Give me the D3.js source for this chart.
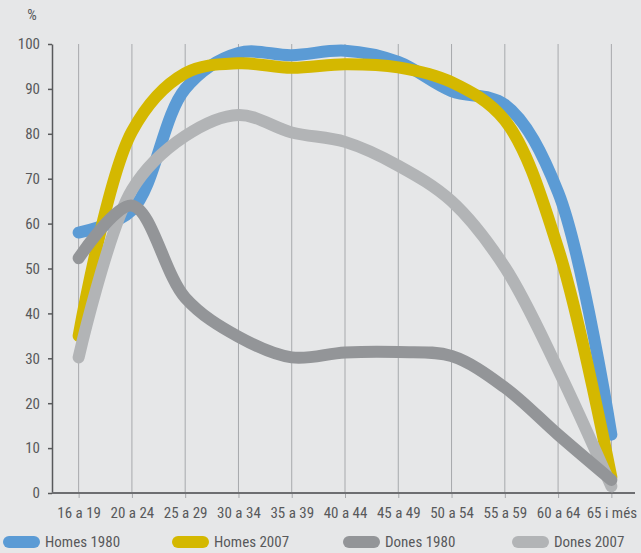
<!DOCTYPE html>
<html>
<head>
<meta charset="utf-8">
<script src="https://cdn.jsdelivr.net/npm/d3@7"></script>
<style>
  html, body { margin: 0; padding: 0; background: #e6e7e8; }
  svg { display: block; }
  text { font-family: "Liberation Sans Narrow", "Roboto Condensed", "Liberation Sans", sans-serif; fill: #58595b; }
</style>
</head>
<body>
<svg id="chart" width="641" height="553"></svg>
<script>
// Age groups on the horizontal axis
const categories = ["16 a 19", "20 a 24", "25 a 29", "30 a 34", "35 a 39", "40 a 44",
                    "45 a 49", "50 a 54", "55 a 59", "60 a 64", "65 i més"];

// Activity rate (%) by age group
const homes1980 = [58, 63, 90, 98, 97.5, 98.5, 96, 89.5, 86.5, 67, 13];
const homes2007 = [35, 80.5, 93.5, 95.7, 94.7, 95.5, 94.8, 91.5, 83, 54.5, 3.5];
const dones1980 = [52.3, 64, 43.5, 34.8, 30.2, 31.3, 31.4, 30.5, 23.5, 13, 2.9];
const dones2007 = [30.2, 67.5, 79.5, 84.2, 80.3, 78.2, 72.9, 65, 50.3, 27.5, 1.5];

const seriesNames = ["Homes 1980", "Homes 2007", "Dones 1980", "Dones 2007"];
const yTicks = [0, 10, 20, 30, 40, 50, 60, 70, 80, 90, 100];

const colors = {
  "Homes 1980": "#5b9bd5",
  "Homes 2007": "#d4b800",
  "Dones 1980": "#939598",
  "Dones 2007": "#b2b4b6"
};

const seriesData = {
  "Homes 1980": homes1980,
  "Homes 2007": homes2007,
  "Dones 1980": dones1980,
  "Dones 2007": dones2007
};

const svg = d3.select("#chart");

const x = d3.scalePoint().domain(categories).range([52, 638]).padding(0.5);
const y = d3.scaleLinear().domain([0, 100]).range([493, 44]);

// vertical grid lines at each age group
svg.append("g").selectAll("line")
  .data(categories).join("line")
  .attr("x1", d => x(d)).attr("x2", d => x(d))
  .attr("y1", y(100)).attr("y2", y(0))
  .attr("stroke", "#a7a9ac").attr("stroke-width", 1);

// y axis
const yAxis = svg.append("g")
  .attr("transform", "translate(52,0)")
  .call(d3.axisLeft(y).tickValues(yTicks).tickSize(4).tickSizeOuter(0).tickPadding(8));
yAxis.select(".domain").attr("stroke", "#58595b").attr("stroke-width", 1.5);
yAxis.selectAll(".tick line").attr("stroke", "#58595b").attr("stroke-width", 1.5);
yAxis.selectAll(".tick text").style("font-size", "15px").attr("fill", "#58595b")
  .style("font-family", "'Liberation Sans Narrow', 'Roboto Condensed', sans-serif");

// x axis
const xAxis = svg.append("g")
  .attr("transform", `translate(0,${y(0)})`)
  .call(d3.axisBottom(x).tickSize(5).tickSizeOuter(0).tickPadding(9));
xAxis.select(".domain").remove();
xAxis.selectAll(".tick line").attr("stroke", "#a7a9ac").attr("stroke-width", 1);
xAxis.selectAll(".tick text").style("font-size", "15px").attr("fill", "#58595b")
  .style("font-family", "'Liberation Sans Narrow', 'Roboto Condensed', sans-serif");
svg.append("line")
  .attr("x1", 52).attr("x2", 635)
  .attr("y1", y(0)).attr("y2", y(0))
  .attr("stroke", "#6d6e71").attr("stroke-width", 2);

// unit label
svg.append("text").attr("x", 32).attr("y", 20)
  .attr("text-anchor", "middle").style("font-size", "15px").text("%");

// smoothed thick series lines
const line = d3.line()
  .x((d, i) => x(categories[i]))
  .y(d => y(d))
  .curve(d3.curveCatmullRom.alpha(0.5));

const drawOrder = ["Homes 1980", "Homes 2007", "Dones 2007", "Dones 1980"];
svg.append("g").selectAll("path")
  .data(drawOrder).join("path")
  .attr("d", d => line(seriesData[d]))
  .attr("fill", "none")
  .attr("stroke", d => colors[d])
  .attr("stroke-width", 12)
  .attr("stroke-linecap", "round")
  .attr("stroke-linejoin", "round");

// legend
const legendX = [3, 172, 343, 512];
const legend = svg.append("g").selectAll("g")
  .data(seriesNames).join("g")
  .attr("transform", (d, i) => `translate(${legendX[i]},0)`);
legend.append("rect")
  .attr("x", 0).attr("y", 536).attr("width", 37).attr("height", 12).attr("rx", 6)
  .attr("fill", d => colors[d]);
legend.append("text")
  .attr("x", 42).attr("y", 547)
  .style("font-size", "15px")
  .text(d => d);
</script>
</body>
</html>
